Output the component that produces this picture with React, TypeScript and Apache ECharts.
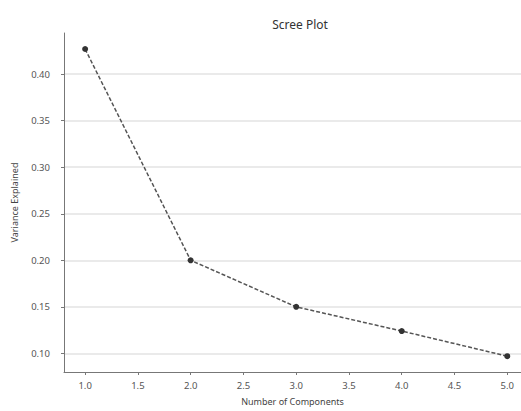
import React, { useEffect, useRef } from "react";
import * as echarts from "echarts";

const components = [1, 2, 3, 4, 5];
const varianceExplained = [0.427, 0.2, 0.15, 0.124, 0.097];
const xTicks = [1.0, 1.5, 2.0, 2.5, 3.0, 3.5, 4.0, 4.5, 5.0];
const yTicks = [0.1, 0.15, 0.2, 0.25, 0.3, 0.35, 0.4];

const FONT = "Noto Sans";

export default function App() {
  const ref = useRef<HTMLDivElement>(null);
  useEffect(() => {
    if (!ref.current) return;
    const chart = echarts.init(ref.current, null, { renderer: "svg" });
    chart.setOption({
      animation: false,
      backgroundColor: "#ffffff",
      title: {
        text: "Scree Plot",
        left: 295,
        textAlign: "center",
        top: 13,
        textStyle: { fontFamily: FONT, fontSize: 12, fontWeight: "normal", color: "#333" },
      },
      grid: { left: 64, top: 33, width: 457, bottom: 32, containLabel: false },
      xAxis: {
        type: "value",
        min: 0.8,
        max: 5.13,
        name: "Number of Components",
        nameLocation: "middle",
        nameGap: 25,
        nameTextStyle: { fontFamily: FONT, fontSize: 9, color: "#444" },
        axisLine: { show: true, lineStyle: { color: "#777", width: 1 } },
        axisTick: { show: true, customValues: xTicks, length: 3, lineStyle: { color: "#777" } },
        axisLabel: {
          customValues: xTicks,
          fontFamily: FONT,
          fontSize: 9.5,
          color: "#555",
          margin: 8,
          formatter: (v: number) => v.toFixed(1),
        },
        splitLine: { show: false },
      },
      yAxis: {
        type: "value",
        min: 0.08,
        max: 0.4442,
        name: "Variance Explained",
        nameLocation: "middle",
        nameGap: 45,
        nameTextStyle: { fontFamily: FONT, fontSize: 9, color: "#444" },
        axisLine: { show: true, lineStyle: { color: "#777", width: 1 } },
        axisTick: { show: true, customValues: yTicks, length: 3, lineStyle: { color: "#777" } },
        axisLabel: {
          customValues: yTicks,
          fontFamily: FONT,
          fontSize: 9.5,
          color: "#555",
          margin: 14,
          formatter: (v: number) => v.toFixed(2),
        },
        splitLine: { show: true, lineStyle: { color: "#e3e3e3", width: 1.5 } },
      },
      series: [
        {
          type: "line",
          data: components.map((c, i) => [c, varianceExplained[i]]),
          symbol: "circle",
          symbolSize: 6,
          itemStyle: { color: "#333" },
          lineStyle: { color: "#555", width: 1.5, type: [4, 2] },
          z: 5,
        },
      ],
    });
    return () => chart.dispose();
  }, []);
  return <div ref={ref} style={{ width: 521, height: 411, position: "absolute", left: 0, top: 0 }} />;
}
